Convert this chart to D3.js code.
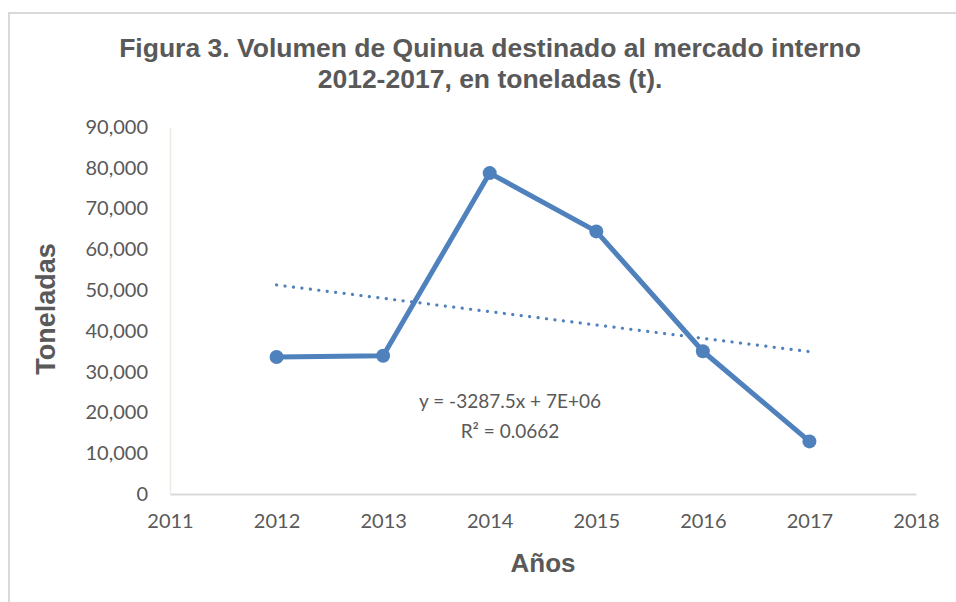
<!DOCTYPE html>
<html>
<head>
<meta charset="utf-8">
<script src="https://cdn.jsdelivr.net/npm/d3@7"></script>
<style>
  body { margin: 0; background: #fff; }
  svg { display: block; }
</style>
</head>
<body>
<div id="chart"></div>
<script>
var years = [2012, 2013, 2014, 2015, 2016, 2017];
var tonnes = [33600, 33900, 78700, 64400, 35000, 12900];
var yTicks = [0, 10000, 20000, 30000, 40000, 50000, 60000, 70000, 80000, 90000];
var xTicks = [2011, 2012, 2013, 2014, 2015, 2016, 2017, 2018];
var titleLines = ["Figura 3. Volumen de Quinua destinado al mercado interno", "2012-2017, en toneladas (t)."];
var trendLabel = ["y = -3287.5x + 7E+06", "R\u00b2 = 0.0662"];

var width = 956, height = 602;
var margin = { top: 127, right: 40, bottom: 108, left: 170 };
var blue = "#4f81bd", grey = "#595959";

var svg = d3.select("#chart").append("svg")
    .attr("width", width)
    .attr("height", height);

// chart frame, runs off the right and bottom edges
svg.append("rect")
    .attr("x", 9).attr("y", 13)
    .attr("width", width + 10).attr("height", height + 10)
    .attr("fill", "white")
    .attr("stroke", "#d9d9d9")
    .attr("stroke-width", 2);

var x = d3.scaleLinear().domain([2011, 2018]).range([margin.left, 916]);
var y = d3.scaleLinear().domain([0, 90000]).range([height - margin.bottom, margin.top]);

svg.selectAll(".title")
    .data(titleLines)
    .enter().append("text")
    .attr("class", "title")
    .attr("x", 490)
    .attr("y", function (d, i) { return 57 + i * 31; })
    .attr("text-anchor", "middle")
    .attr("fill", grey)
    .style("font-family", "'Liberation Sans', Arial, sans-serif")
    .style("font-weight", "bold")
    .style("font-size", "26.5px")
    .text(function (d) { return d; });

var fmt = d3.format(",");

var yAxis = svg.append("g")
    .attr("transform", "translate(" + margin.left + ",0)")
    .call(d3.axisLeft(y).tickValues(yTicks).tickSize(0).tickPadding(22).tickFormat(fmt));
var xAxis = svg.append("g")
    .attr("transform", "translate(0," + y(0) + ")")
    .call(d3.axisBottom(x).tickValues(xTicks).tickSize(0).tickPadding(20).tickFormat(d3.format("d")));

[yAxis, xAxis].forEach(function (g) {
    g.selectAll("text")
        .attr("fill", grey)
        .style("font-family", "Lato, 'Open Sans', sans-serif")
        .style("font-size", "20px");
});
yAxis.select(".domain").attr("stroke", "#ecebe3").attr("stroke-width", 1.5);
xAxis.select(".domain").attr("stroke", "#d9d9d9").attr("stroke-width", 2);

// trend line from least squares of the series
var n = years.length;
var mx = d3.mean(years), my = d3.mean(tonnes);
var slope = d3.sum(years, function (d, i) { return (d - mx) * (tonnes[i] - my); }) /
    d3.sum(years, function (d) { return (d - mx) * (d - mx); });
var icpt = my - slope * mx;
var ends = [years[0], years[n - 1]];

svg.append("line")
    .attr("x1", x(ends[0])).attr("y1", y(icpt + slope * ends[0]))
    .attr("x2", x(ends[1])).attr("y2", y(icpt + slope * ends[1]))
    .attr("stroke", blue)
    .attr("stroke-width", 3.2)
    .attr("stroke-linecap", "round")
    .attr("stroke-dasharray", "0.1 8.4");

var line = d3.line()
    .x(function (d, i) { return x(years[i]); })
    .y(function (d) { return y(d); });

svg.append("path")
    .datum(tonnes)
    .attr("d", line)
    .attr("fill", "none")
    .attr("stroke", blue)
    .attr("stroke-width", 5)
    .attr("stroke-linejoin", "round");

svg.selectAll(".dot")
    .data(tonnes)
    .enter().append("circle")
    .attr("class", "dot")
    .attr("cx", function (d, i) { return x(years[i]); })
    .attr("cy", function (d) { return y(d); })
    .attr("r", 7)
    .attr("fill", blue);

svg.selectAll(".eq")
    .data(trendLabel)
    .enter().append("text")
    .attr("class", "eq")
    .attr("x", 510)
    .attr("y", function (d, i) { return 408 + i * 30; })
    .attr("text-anchor", "middle")
    .attr("fill", grey)
    .style("font-family", "Lato, 'Open Sans', sans-serif")
    .style("font-size", "19px")
    .text(function (d) { return d; });

svg.append("text")
    .attr("x", 543).attr("y", 572)
    .attr("text-anchor", "middle")
    .attr("fill", grey)
    .style("font-family", "'Liberation Sans', Arial, sans-serif")
    .style("font-weight", "bold")
    .style("font-size", "26px")
    .text("Años");

svg.append("text")
    .attr("transform", "translate(55,309) rotate(-90)")
    .attr("text-anchor", "middle")
    .attr("fill", grey)
    .style("font-family", "'Liberation Sans', Arial, sans-serif")
    .style("font-weight", "bold")
    .style("font-size", "27px")
    .text("Toneladas");
</script>
</body>
</html>
